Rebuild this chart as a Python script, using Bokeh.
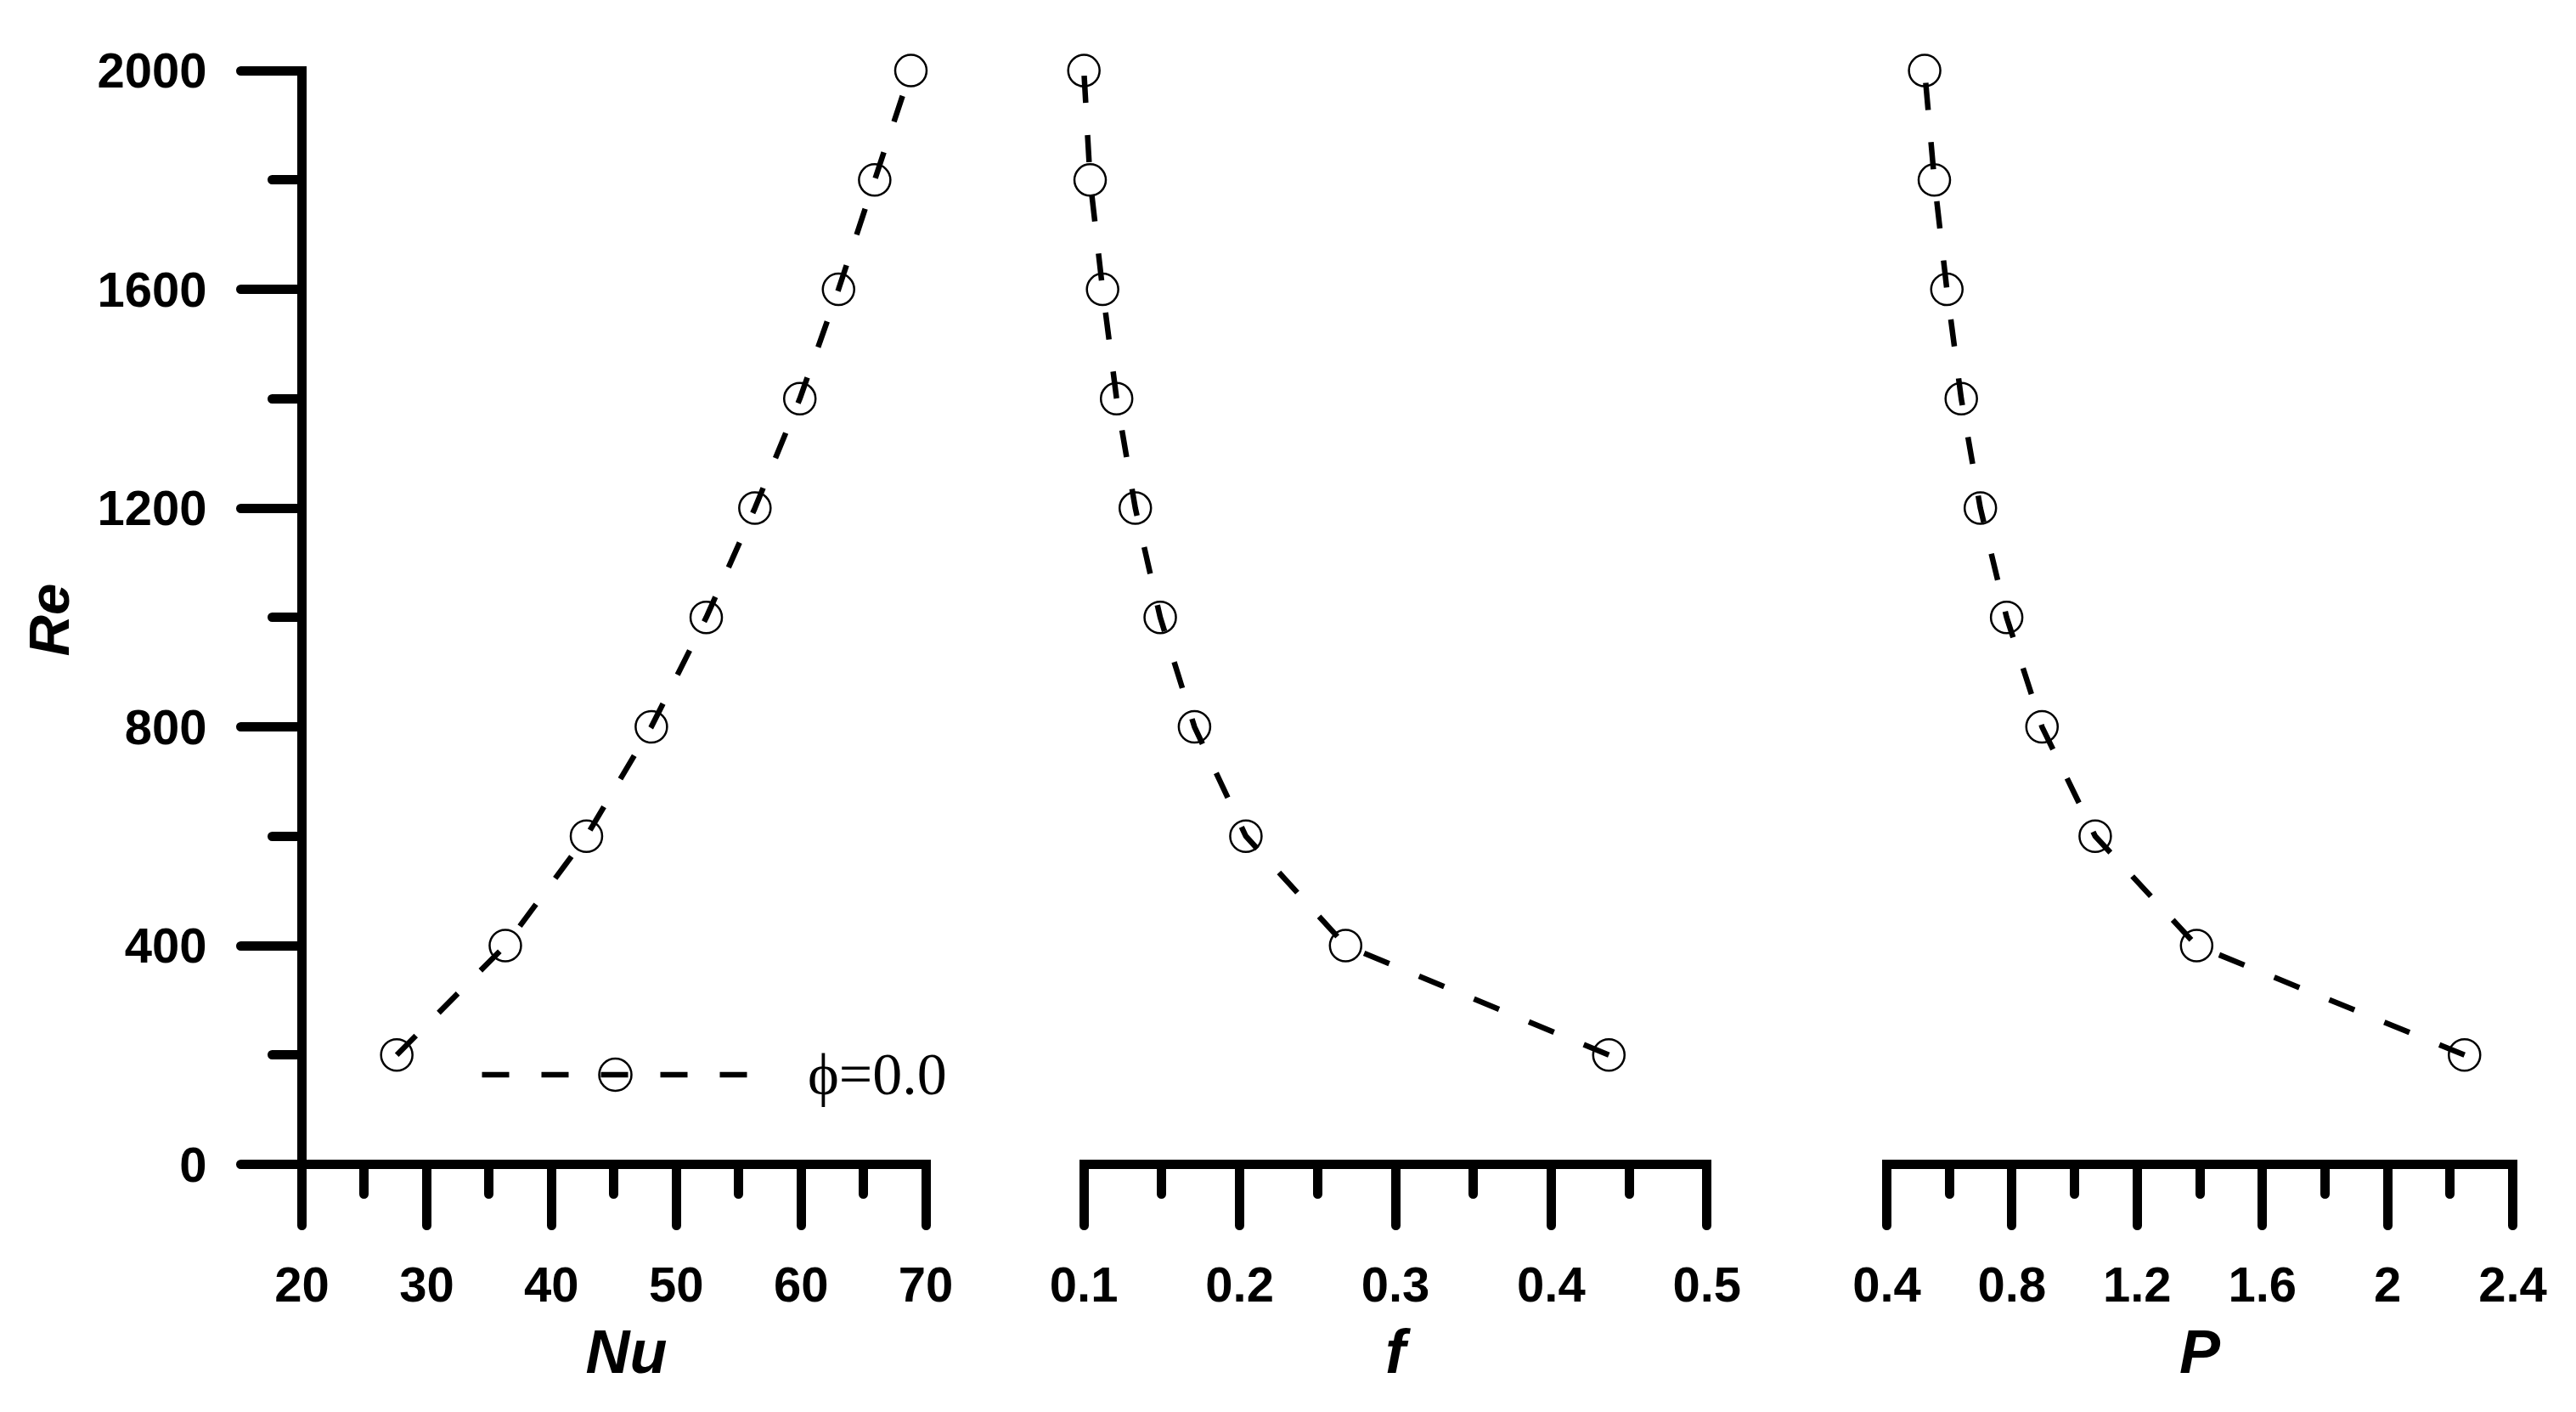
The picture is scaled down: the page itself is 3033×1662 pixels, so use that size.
from bokeh.plotting import figure
from bokeh.layouts import row
from bokeh.models import Range1d, FixedTicker, Legend, LegendItem, Title
from bokeh.embed import file_html
from bokeh.resources import INLINE

# ---- data ----
re_vals = [200, 400, 600, 800, 1000, 1200, 1400, 1600, 1800, 2000]
nu_vals = [27.6, 36.3, 42.8, 48.0, 52.4, 56.3, 59.9, 63.0, 65.9, 68.8]
f_vals = [0.437, 0.268, 0.204, 0.171, 0.149, 0.133, 0.121, 0.112, 0.104, 0.1]
p_vals = [2.246, 1.39, 1.066, 0.896, 0.783, 0.699, 0.638, 0.592, 0.552, 0.521]

re_ticks = [0, 400, 800, 1200, 1600, 2000]
re_minor = [200, 600, 1000, 1400, 1800]
re_labels = ["0", "400", "800", "1200", "1600", "2000"]

nu_ticks = [20, 30, 40, 50, 60, 70]
nu_minor = [25, 35, 45, 55, 65]
nu_labels = ["20", "30", "40", "50", "60", "70"]

f_ticks = [0.1, 0.2, 0.3, 0.4, 0.5]
f_minor = [0.15, 0.25, 0.35, 0.45]
f_labels = ["0.1", "0.2", "0.3", "0.4", "0.5"]

p_ticks = [0.4, 0.8, 1.2, 1.6, 2.0, 2.4]
p_minor = [0.6, 1.0, 1.4, 1.8, 2.2]
p_labels = ["0.4", "0.8", "1.2", "1.6", "2", "2.4"]

legend_label = "ϕ=0.0"

# ---- layout constants ----
FRAME_H = 1326
TOP = 44
FONT = "Liberation Sans"


def make_fig(xr, frame_w, left, right, with_y):
    p = figure(x_range=Range1d(*xr), y_range=Range1d(0, 2060),
               frame_width=frame_w, frame_height=FRAME_H,
               min_border_left=left, min_border_right=right,
               min_border_top=TOP, min_border_bottom=0,
               output_backend="svg", toolbar_location=None,
               y_axis_location="left" if with_y else None)
    p.outline_line_color = None
    p.xgrid.visible = False
    p.ygrid.visible = False
    p.background_fill_color = "white"
    p.border_fill_color = "white"
    return p


def style_axis(ax, ticks, minor, labels, bounds, title, title_size,
               label_standoff, title_standoff):
    ax.ticker = FixedTicker(ticks=ticks, minor_ticks=minor)
    ax.major_label_overrides = dict(zip(ticks, labels))
    ax.bounds = bounds
    ax.axis_line_color = "black"
    ax.axis_line_width = 11
    ax.axis_line_cap = "square"
    ax.major_tick_line_color = "black"
    ax.major_tick_line_width = 11
    ax.major_tick_line_cap = "round"
    ax.major_tick_out = 72
    ax.major_tick_in = 0
    ax.minor_tick_line_color = "black"
    ax.minor_tick_line_width = 11
    ax.minor_tick_line_cap = "round"
    ax.minor_tick_out = 35
    ax.minor_tick_in = 0
    ax.major_label_text_font = FONT
    ax.major_label_text_font_style = "bold"
    ax.major_label_text_font_size = "58px"
    ax.major_label_text_color = "black"
    ax.major_label_standoff = label_standoff
    if title is not None:
        ax.axis_label = title
        ax.axis_label_text_font = FONT
        ax.axis_label_text_font_style = "bold italic"
        ax.axis_label_text_font_size = title_size
        ax.axis_label_text_color = "black"
        ax.axis_label_standoff = title_standoff


def draw_series(p, xs):
    ln = p.line(xs, re_vals, line_color="black", line_width=6.5, line_dash="32 38")
    sc = p.scatter(xs, re_vals, marker="circle", size=37, fill_color=None,
                   line_color="black", line_width=2.5)
    return ln, sc


# Panel 1: Nu
p1 = make_fig((20, 72), 764, 355, 50, True)
ln1, sc1 = draw_series(p1, nu_vals)
style_axis(p1.xaxis[0], nu_ticks, nu_minor, nu_labels, (20, 70), "Nu", "72px", 49, 16)
style_axis(p1.yaxis[0], re_ticks, re_minor, re_labels, (0, 2000), None, None, 40, 0)

# y-axis title, centred on the bounded axis (0..2000)
re_title = Title(text="Re", align="left", offset=598, standoff=34,
                 text_font=FONT, text_font_style="bold italic",
                 text_font_size="67px", text_color="black")
p1.add_layout(re_title, "left")

legend = Legend(items=[LegendItem(label=legend_label, renderers=[ln1, sc1])],
                location=(212, 58), glyph_width=314, glyph_height=95,
                label_standoff=70, padding=0, margin=0, spacing=0,
                border_line_color=None, background_fill_alpha=0,
                label_text_font="Liberation Serif", label_text_font_size="70px",
                label_text_color="black")
p1.add_layout(legend)

# Panel 2: f
p2 = make_fig((0.08, 0.52), 807, 70, 87, False)
draw_series(p2, f_vals)
style_axis(p2.xaxis[0], f_ticks, f_minor, f_labels, (0.1, 0.5), "f", "72px", 49, 16)

# Panel 3: P
p3 = make_fig((0.4, 2.4), 737, 88, 70, False)
draw_series(p3, p_vals)
style_axis(p3.xaxis[0], p_ticks, p_minor, p_labels, (0.4, 2.4), "P", "72px", 49, 16)

layout = row(p1, p2, p3)
open("out.html", "w").write(file_html(layout, INLINE))
